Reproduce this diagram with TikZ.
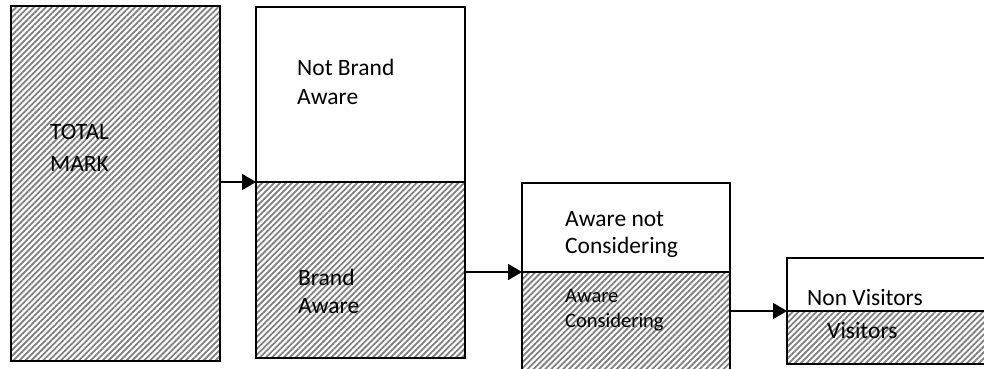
\documentclass[tikz,border=0pt]{standalone}
\usepackage{fontspec}
\setmainfont{Carlito}
\usetikzlibrary{arrows.meta,patterns.meta}

\begin{document}
\begin{tikzpicture}[
      x=1pt, y=-1pt,
      box/.style={draw=black, line width=1.6pt, inner sep=0pt, outer sep=0pt, anchor=north west},
      plain/.style={box, fill=white},
      hatched/.style={box, preaction={fill=white}, pattern={Lines[angle=45, distance=4.2pt, line width=1.8pt]}, pattern color=black!50},
      label/.style={anchor=base west, inner sep=0pt, align=left, font=\fontsize{23.5}{29}\selectfont},
      small/.style={label, font=\fontsize{20.5}{25}\selectfont},
      arr/.style={-{Triangle[length=14pt, width=16pt]}, line width=1.8pt, color=black}
    ]
      \useasboundingbox (0,0) rectangle (984,368);
      \clip (0,0) rectangle (984,368);

      % total market
      \node[hatched, minimum width=209pt, minimum height=355pt] (total) at (11,6) {};
      \node[label, font=\fontsize{23.5}{32}\selectfont] (totaltxt) at (50,171) {TOTAL\\MARK};

      % brand awareness
      \node[plain, minimum width=209pt, minimum height=175pt] (notaware) at (256,7) {};
      \node[hatched, minimum width=209pt, minimum height=176pt] (aware) at (notaware.south west) {};
      \node[label] (notawaretxt) at (297,104) {Not Brand\\Aware};
      \node[label, font=\fontsize{23.5}{28}\selectfont] (awaretxt) at (298,313) {Brand\\Aware};

      % consideration
      \node[plain, minimum width=208pt, minimum height=89pt] (notcons) at (522,183) {};
      \node[hatched, minimum width=208pt, minimum height=105pt] (cons) at (notcons.south west) {};
      \node[label, font=\fontsize{23.5}{27}\selectfont] (notconstxt) at (565,253) {Aware not\\Considering};
      \node[small] (constxt) at (565,327) {Aware\\Considering};

      % visits
      \node[plain, minimum width=210pt, minimum height=53pt] (nonvis) at (787,258) {};
      \node[hatched, minimum width=210pt, minimum height=53pt] (vis) at (nonvis.south west) {};
      \node[label] (nonvistxt) at (807,305) {Non Visitors};
      \node[label] (vistxt) at (827,338) {Visitors};

      \draw[arr] (total.east |- aware.north west) -- (aware.north west);
      \draw[arr] (aware.east |- cons.north west) -- (cons.north west);
      \draw[arr] (cons.east |- vis.north west) -- (vis.north west);
    \end{tikzpicture}
\end{document}
